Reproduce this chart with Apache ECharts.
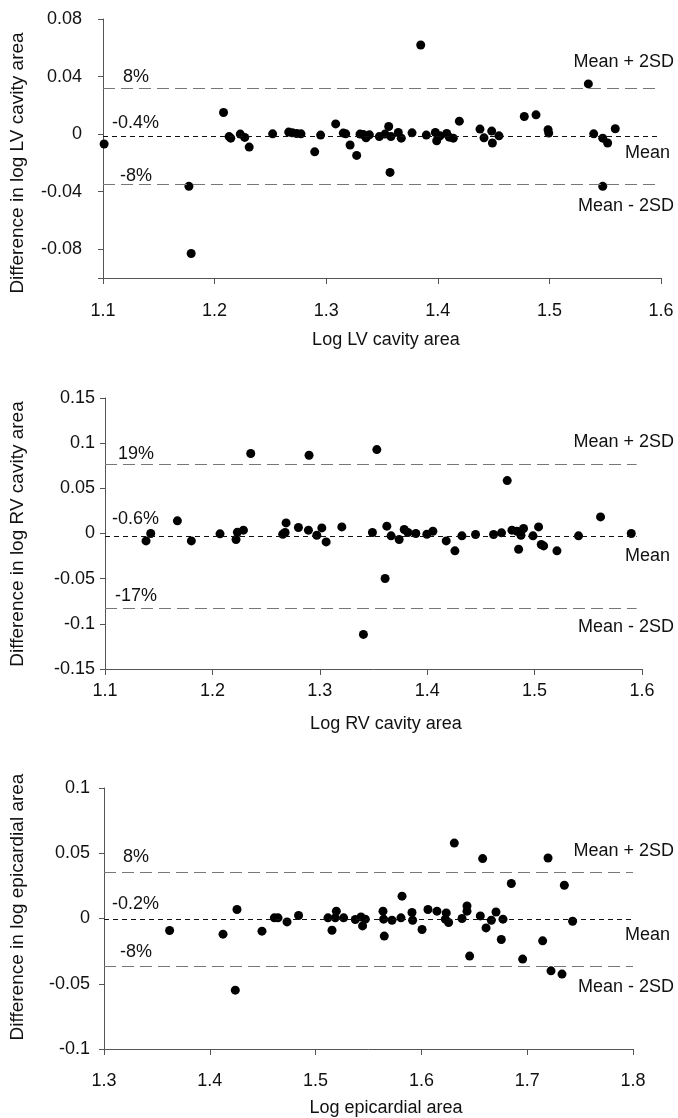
<!DOCTYPE html>
<html>
<head>
<meta charset="utf-8">
<script src="https://cdn.jsdelivr.net/npm/echarts@6/dist/echarts.min.js"></script>
<style>
  html, body { margin: 0; padding: 0; background: #fff; }
  #draw { width: 678px; height: 1118px; }
</style>
</head>
<body>
<div id="draw"></div>
<script>
// Bland-Altman plots: LV cavity, RV cavity, epicardial area

var lvPoints = [
  [1.101, -0.0069], [1.208, 0.015], [1.177, -0.0363], [1.179, -0.083], [1.213, -0.0017],
  [1.2145, -0.0028], [1.223, 0.0], [1.227, -0.0023], [1.231, -0.009], [1.252, 0.0002],
  [1.2664, 0.0014], [1.2697, 0.0009], [1.2735, 0.0004], [1.2774, 0.0002], [1.2897, -0.0123],
  [1.295, -0.0007], [1.3085, 0.0071], [1.3153, 0.0007], [1.3175, 0.0002], [1.3214, -0.0076],
  [1.3273, -0.0148], [1.3303, 0.0], [1.3333, -0.0003], [1.3357, -0.0026], [1.3387, -0.0005],
  [1.3476, -0.0017], [1.3527, 0.0], [1.356, 0.0053], [1.358, -0.0017], [1.3572, -0.0266],
  [1.3646, 0.0011], [1.3673, -0.0028], [1.3769, 0.0009], [1.3847, 0.0619], [1.3897, -0.0007],
  [1.3978, 0.0011], [1.399, -0.0046], [1.402, -0.0012], [1.408, 0.0004], [1.4103, -0.0021],
  [1.4139, -0.0028], [1.4193, 0.009], [1.4378, 0.0035], [1.4414, -0.0026], [1.4483, 0.0021],
  [1.4489, -0.0062], [1.4548, -0.0012], [1.4775, 0.0122], [1.488, 0.0134], [1.4988, 0.003],
  [1.4994, 0.0007], [1.5349, 0.0349], [1.5397, 0.0002], [1.5478, -0.0028], [1.5478, -0.0363],
  [1.5522, -0.0062], [1.559, 0.0037]
];

var rvPoints = [
  [1.1382, -0.0082], [1.1426, 0.0], [1.1674, 0.014], [1.1804, -0.0082], [1.2071, -0.0004],
  [1.222, -0.0066], [1.2233, 0.0014], [1.2289, 0.0037], [1.2357, 0.0885], [1.2655, -0.0008],
  [1.2686, 0.0117], [1.2677, 0.0011], [1.2801, 0.0066], [1.29, 0.0866], [1.2894, 0.0037],
  [1.2972, -0.0019], [1.3019, 0.0062], [1.3059, -0.0093], [1.3205, 0.0073], [1.349, 0.0011],
  [1.3531, 0.0929], [1.3624, 0.0081], [1.3608, -0.0498], [1.3664, -0.0026], [1.3739, -0.0066],
  [1.3786, 0.0044], [1.382, 0.0011], [1.3894, 0.0], [1.3997, -0.0008], [1.4053, 0.0025],
  [1.3406, -0.1117], [1.4177, -0.0082], [1.4258, -0.0192], [1.4323, -0.0026], [1.445, -0.0011],
  [1.4618, -0.0011], [1.4692, 0.0007], [1.4745, 0.0586], [1.4789, 0.0037], [1.4836, 0.0025],
  [1.4851, -0.0174], [1.4873, -0.0019], [1.4897, 0.0055], [1.4985, -0.0026], [1.5037, 0.0073],
  [1.5062, -0.0122], [1.5084, -0.0137], [1.5208, -0.0192], [1.5409, -0.0026], [1.5614, 0.0184],
  [1.59, 0.0]
];

var epiPoints = [
  [1.362, -0.0092], [1.4125, -0.012], [1.4257, 0.0069], [1.4241, -0.0549], [1.4493, -0.0097],
  [1.461, 0.0005], [1.4645, 0.0005], [1.473, -0.0026], [1.4839, 0.0023], [1.5117, 0.0005],
  [1.5155, -0.009], [1.5196, 0.0056], [1.5186, 0.0005], [1.5265, 0.0005], [1.5375, -0.0008],
  [1.5429, 0.0012], [1.5444, -0.0057], [1.547, -0.0005], [1.5637, 0.0056], [1.5643, -0.0005],
  [1.5649, -0.0135], [1.5722, -0.0013], [1.5807, 0.0005], [1.5817, 0.0171], [1.5911, 0.0046],
  [1.5917, -0.0013], [1.6006, -0.0084], [1.6062, 0.0069], [1.6147, 0.0056], [1.6235, 0.0043],
  [1.6226, -0.0005], [1.6257, -0.0031], [1.6311, 0.0578], [1.6384, 0.0], [1.6431, 0.0096],
  [1.6431, 0.0056], [1.6456, -0.0288], [1.6557, 0.002], [1.6579, 0.0459], [1.6611, -0.0072],
  [1.6661, -0.0013], [1.6705, 0.005], [1.6755, -0.0161], [1.6771, -0.0005], [1.685, 0.0268],
  [1.6957, -0.0311], [1.7146, -0.0171], [1.7197, 0.0464], [1.7225, -0.0401], [1.7329, -0.0426],
  [1.7351, 0.0255], [1.7429, -0.0021]
];

// mean + 2SD, mean, mean - 2SD
var lvLimits = [0.032, -0.0017, -0.0351];
var rvLimits = [0.0763, -0.003, -0.0823];
var epiLimits = [0.0352, -0.0008, -0.0365];

// x range covered by the limit lines
var lvLineX = [1.1, 1.6];
var rvLineX = [1.1, 1.595];
var epiLineX = [1.3, 1.8];

var lvPercents = ['8%', '-0.4%', '-8%'];
var rvPercents = ['19%', '-0.6%', '-17%'];
var epiPercents = ['8%', '-0.2%', '-8%'];

var limitNames = ['Mean + 2SD', 'Mean', 'Mean - 2SD'];

var lvYTicks = [-0.1, -0.08, -0.04, 0, 0.04, 0.08];
var lvYLabels = [-0.08, -0.04, 0, 0.04, 0.08];

var yNames = ['Difference in log LV cavity area', 'Difference in log RV cavity area', 'Difference in log epicardial area'];
var xNames = ['Log LV cavity area', 'Log RV cavity area', 'Log epicardial area'];

var FONT = '"Liberation Sans", Arial, Helvetica, sans-serif';
var TXT = '#111';
var AXC = '#555';

function limitLines(limits, lineX) {
  var styles = [
    { color: '#777', width: 1, type: [12, 6] },
    { color: '#111', width: 1, type: [5, 4] },
    { color: '#777', width: 1, type: [12, 6] }
  ];
  return {
    silent: true,
    symbol: ['none', 'none'],
    label: { show: false },
    animation: false,
    data: limits.map(function (v, i) {
      return [
        { coord: [lineX[0], v], lineStyle: styles[i] },
        { coord: [lineX[1], v] }
      ];
    })
  };
}

function xAxisOf(idx, min, max, margin) {
  return {
    gridIndex: idx, type: 'value', min: min, max: max, interval: 0.1,
    axisLine: { show: true, onZero: false, lineStyle: { color: AXC, width: 1 } },
    axisTick: { show: true, length: 6, lineStyle: { color: AXC } },
    axisLabel: {
      margin: margin, color: TXT, fontSize: 18, fontFamily: FONT,
      formatter: function (v) { return v.toFixed(1); }
    },
    splitLine: { show: false }
  };
}

function yAxisOf(idx, min, max, interval, margin, fmt) {
  return {
    gridIndex: idx, type: 'value', min: min, max: max, interval: interval,
    axisLine: { show: true, onZero: false, lineStyle: { color: AXC, width: 1 } },
    axisTick: { show: true, length: 5, lineStyle: { color: AXC } },
    axisLabel: { margin: margin, color: TXT, fontSize: 18, fontFamily: FONT, formatter: fmt },
    splitLine: { show: false }
  };
}

function txt(s, x, y, align) {
  return {
    type: 'text', x: x, y: y, silent: true,
    style: { text: s, fill: TXT, font: '18px ' + FONT, align: align || 'left', verticalAlign: 'middle' }
  };
}

function vtxt(s, x, y) {
  return {
    type: 'text', x: x, y: y, rotation: Math.PI / 2, silent: true,
    style: { text: s, fill: TXT, font: '19px ' + FONT, align: 'center', verticalAlign: 'middle' }
  };
}

function fmtTick(v) {
  return v === 0 ? '0' : String(Math.round(v * 100) / 100);
}

var myChart = echarts.init(document.getElementById('draw'));

var y1 = yAxisOf(0, -0.1, 0.08, 0.02, 21, fmtTick);
y1.axisTick.customValues = lvYTicks;
y1.axisLabel.customValues = lvYLabels;

var dotStyle = { color: '#000', opacity: 1 };

var option = {
  animation: false,
  backgroundColor: '#fff',
  grid: [
    { left: 103, top: 19, width: 558, height: 259 },
    { left: 105, top: 398, width: 537, height: 271 },
    { left: 104, top: 788, width: 529, height: 261 }
  ],
  xAxis: [
    xAxisOf(0, 1.1, 1.6, 24),
    xAxisOf(1, 1.1, 1.6, 13),
    xAxisOf(2, 1.3, 1.8, 23)
  ],
  yAxis: [
    y1,
    yAxisOf(1, -0.15, 0.15, 0.05, 10, fmtTick),
    yAxisOf(2, -0.1, 0.1, 0.05, 14, fmtTick)
  ],
  series: [
    {
      type: 'scatter', xAxisIndex: 0, yAxisIndex: 0, data: lvPoints,
      symbolSize: 9, itemStyle: dotStyle, markLine: limitLines(lvLimits, lvLineX)
    },
    {
      type: 'scatter', xAxisIndex: 1, yAxisIndex: 1, data: rvPoints,
      symbolSize: 9, itemStyle: dotStyle, markLine: limitLines(rvLimits, rvLineX)
    },
    {
      type: 'scatter', xAxisIndex: 2, yAxisIndex: 2, data: epiPoints,
      symbolSize: 9, itemStyle: dotStyle, markLine: limitLines(epiLimits, epiLineX)
    }
  ],
  graphic: [
    // panel 1
    txt(lvPercents[0], 123, 77), txt(lvPercents[1], 112, 123), txt(lvPercents[2], 120, 176),
    txt(limitNames[0], 674, 62, 'right'), txt(limitNames[1], 670, 153, 'right'), txt(limitNames[2], 674, 206, 'right'),
    vtxt(yNames[0], 18, 163), txt(xNames[0], 386, 340, 'center'),
    // panel 2
    txt(rvPercents[0], 118, 454), txt(rvPercents[1], 112, 519), txt(rvPercents[2], 115, 596),
    txt(limitNames[0], 674, 442, 'right'), txt(limitNames[1], 670, 556, 'right'), txt(limitNames[2], 674, 627, 'right'),
    vtxt(yNames[1], 18, 534), txt(xNames[1], 386, 724, 'center'),
    // panel 3
    txt(epiPercents[0], 123, 857), txt(epiPercents[1], 112, 904), txt(epiPercents[2], 120, 952),
    txt(limitNames[0], 674, 851, 'right'), txt(limitNames[1], 670, 935, 'right'), txt(limitNames[2], 674, 987, 'right'),
    vtxt(yNames[2], 18, 907), txt(xNames[2], 386, 1108, 'center')
  ]
};

myChart.setOption(option);
</script>
</body>
</html>
